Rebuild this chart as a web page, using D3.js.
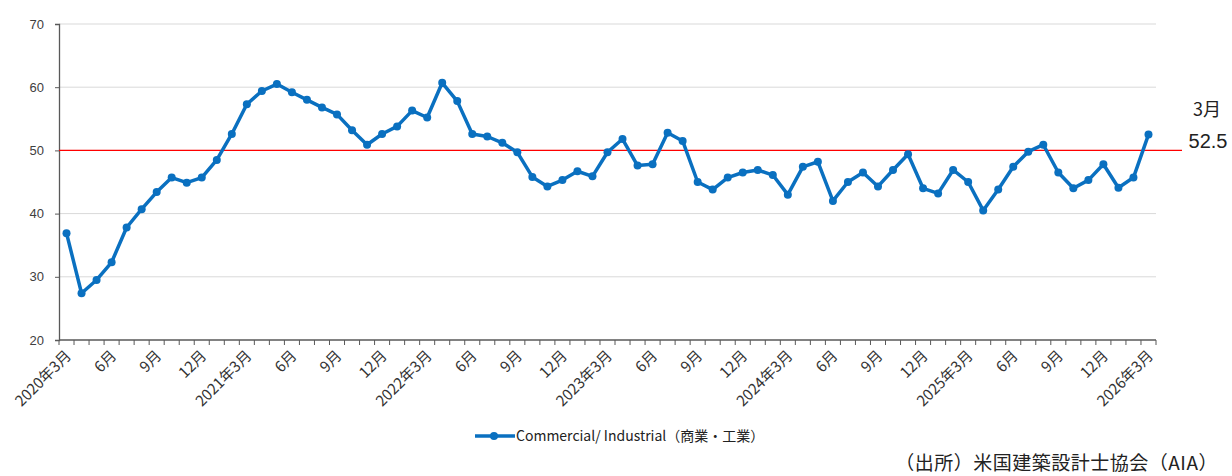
<!DOCTYPE html>
<html>
<head>
<meta charset="utf-8">
<script src="https://cdn.jsdelivr.net/npm/d3@7"></script>
<style>
  html, body { margin: 0; padding: 0; background: #fff; }
  svg { display: block; }
</style>
</head>
<body>
<svg id="chart" width="1232" height="476"></svg>
<script>
// ---- data ----
const categories = [
  "2020/03","2020/04","2020/05","2020/06","2020/07","2020/08","2020/09","2020/10","2020/11","2020/12",
  "2021/01","2021/02","2021/03","2021/04","2021/05","2021/06","2021/07","2021/08","2021/09","2021/10","2021/11","2021/12",
  "2022/01","2022/02","2022/03","2022/04","2022/05","2022/06","2022/07","2022/08","2022/09","2022/10","2022/11","2022/12",
  "2023/01","2023/02","2023/03","2023/04","2023/05","2023/06","2023/07","2023/08","2023/09","2023/10","2023/11","2023/12",
  "2024/01","2024/02","2024/03","2024/04","2024/05","2024/06","2024/07","2024/08","2024/09","2024/10","2024/11","2024/12",
  "2025/01","2025/02","2025/03","2025/04","2025/05","2025/06","2025/07","2025/08","2025/09","2025/10","2025/11","2025/12",
  "2026/01","2026/02","2026/03"
];
const commercialIndustrial = [
  36.9, 27.4, 29.5, 32.3, 37.8, 40.7, 43.4, 45.7, 44.9, 45.7,
  48.5, 52.6, 57.3, 59.4, 60.5, 59.2, 58.0, 56.8, 55.7, 53.2, 50.9, 52.6,
  53.8, 56.3, 55.2, 60.7, 57.8, 52.6, 52.2, 51.2, 49.7, 45.8, 44.3, 45.3,
  46.7, 45.9, 49.7, 51.8, 47.6, 47.8, 52.8, 51.5, 45.0, 43.8, 45.7, 46.5,
  46.9, 46.1, 43.0, 47.4, 48.2, 42.0, 45.0, 46.5, 44.3, 46.9, 49.4, 44.0,
  43.2, 46.9, 45.0, 40.5, 43.8, 47.4, 49.8, 50.9, 46.5, 44.0, 45.3, 47.8,
  44.1, 45.7, 52.5
];
const tickCategories = [
  "2020/03","2020/06","2020/09","2020/12","2021/03","2021/06","2021/09","2021/12",
  "2022/03","2022/06","2022/09","2022/12","2023/03","2023/06","2023/09","2023/12",
  "2024/03","2024/06","2024/09","2024/12","2025/03","2025/06","2025/09","2025/12","2026/03"
];
const tickLabels = [
  "2020年3月","6月","9月","12月","2021年3月","6月","9月","12月",
  "2022年3月","6月","9月","12月","2023年3月","6月","9月","12月",
  "2024年3月","6月","9月","12月","2025年3月","6月","9月","12月","2026年3月"
];
const yTicks = [20, 30, 40, 50, 60, 70];
const referenceLevel = 50;
const seriesName = "Commercial/ Industrial（商業・工業）";
const annotationMonth = "3月";
const annotationValue = "52.5";
const sourceText = "（出所）米国建築設計士協会（AIA）";

// ---- layout ----
const svg = d3.select("#chart");
const plotLeft = 59, plotRight = 1156, plotTop = 24, plotBottom = 340;
const lineColor = "#0a70c0";
const cjkFont = "'Noto Sans CJK JP', 'Noto Sans', sans-serif";

const x = d3.scaleBand().domain(categories).range([plotLeft, plotRight]).paddingInner(0).paddingOuter(0);
const y = d3.scaleLinear().domain([20, 70]).range([plotBottom, plotTop]);
const cx = c => x(c) + x.bandwidth() / 2;

// gridlines
svg.append("g").selectAll("line").data(yTicks.filter(t => t !== 20)).join("line")
  .attr("x1", plotLeft).attr("x2", plotRight)
  .attr("y1", d => y(d)).attr("y2", d => y(d))
  .attr("stroke", "#d9d9d9").attr("stroke-width", 1);

// y axis
const yAxis = svg.append("g").attr("transform", `translate(${plotLeft},0)`)
  .call(d3.axisLeft(y).tickValues(yTicks).tickSize(4).tickPadding(11));
yAxis.select(".domain").attr("stroke", "#595959").attr("stroke-width", 1.3);
yAxis.selectAll(".tick line").attr("stroke", "#595959");
yAxis.selectAll("text").attr("fill", "#404040")
  .style("font-family", "'Liberation Sans', Arial, sans-serif").style("font-size", "13px");

// x axis line + ticks at category boundaries
const xg = svg.append("g");
xg.append("line").attr("x1", plotLeft).attr("x2", plotRight).attr("y1", plotBottom).attr("y2", plotBottom)
  .attr("stroke", "#595959").attr("stroke-width", 1.3);
const boundaries = categories.map(c => x(c)).concat([x(categories[categories.length - 1]) + x.bandwidth()]);
xg.selectAll("line.tk").data(boundaries).join("line").attr("class", "tk")
  .attr("x1", d => d).attr("x2", d => d).attr("y1", plotBottom).attr("y2", plotBottom + 5)
  .attr("stroke", "#595959").attr("stroke-width", 1);

// x labels
xg.selectAll("text").data(tickCategories).join("text")
  .attr("transform", (d) => `translate(${cx(d) + 2},${plotBottom + 13}) rotate(-45)`)
  .attr("text-anchor", "end")
  .attr("dy", "0.35em")
  .attr("fill", "#333")
  .style("font-family", cjkFont).style("font-size", "15px")
  .text((d, i) => tickLabels[i]);

// reference line at 50
svg.append("line")
  .attr("x1", plotLeft).attr("x2", 1182)
  .attr("y1", y(referenceLevel)).attr("y2", y(referenceLevel))
  .attr("stroke", "#ff0000").attr("stroke-width", 1.2);

// series line
const line = d3.line().x((d, i) => cx(categories[i])).y(d => y(d));
svg.append("path").datum(commercialIndustrial)
  .attr("d", line).attr("fill", "none")
  .attr("stroke", lineColor).attr("stroke-width", 3.5).attr("stroke-linejoin", "round");
svg.append("g").selectAll("circle").data(commercialIndustrial).join("circle")
  .attr("cx", (d, i) => cx(categories[i])).attr("cy", d => y(d)).attr("r", 4)
  .attr("fill", lineColor);

// annotation
svg.append("text").attr("x", 1207).attr("y", 116).attr("text-anchor", "middle")
  .attr("fill", "#222").style("font-family", cjkFont).style("font-size", "18px")
  .text(annotationMonth);
svg.append("text").attr("x", 1208).attr("y", 148).attr("text-anchor", "middle")
  .attr("fill", "#222").style("font-family", "'Liberation Sans', Arial, sans-serif").style("font-size", "20px")
  .text(annotationValue);

// legend
const lg = svg.append("g");
lg.append("line").attr("x1", 475).attr("x2", 515).attr("y1", 436).attr("y2", 436)
  .attr("stroke", lineColor).attr("stroke-width", 3.5);
lg.append("circle").attr("cx", 494).attr("cy", 436).attr("r", 4).attr("fill", lineColor);
lg.append("text").attr("x", 516).attr("y", 436).attr("dy", "0.35em")
  .attr("fill", "#222").style("font-family", cjkFont).style("font-size", "14px")
  .text(seriesName);

// source
svg.append("text").attr("x", 1218).attr("y", 463).attr("dy", "0.35em").attr("text-anchor", "end")
  .attr("fill", "#222").style("font-family", cjkFont).style("font-size", "19px")
  .style("letter-spacing", "0.5px")
  .text(sourceText);
</script>
</body>
</html>
